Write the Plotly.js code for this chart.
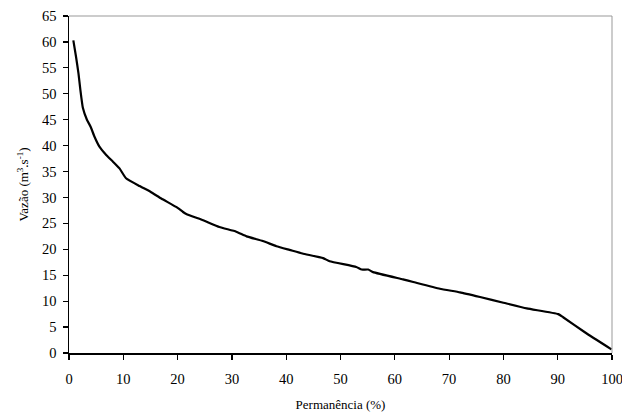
<!DOCTYPE html>
<html>
<head>
<meta charset="utf-8">
<script src="https://cdn.plot.ly/plotly-3.0.1.min.js"></script>
<style>html,body{margin:0;padding:0;background:#fff;}#chart{width:622px;height:414px;}</style>
</head>
<body>
<div id="chart"></div>
<script>
const permanencia = [0.8, 1.3, 1.75, 2.1, 2.55, 3.3, 4.0, 4.7, 5.6, 6.85, 8.1, 9.3, 10.5, 13, 15, 17, 20, 21, 21.6, 24.7, 27.7, 30.8, 32.7, 35.7, 38.2, 40.6, 43, 46.8, 48, 52.9, 53.9, 55.1, 56, 61.5, 63.4, 68.3, 72, 75.7, 80, 84.3, 90.1, 91, 95, 99.9];
const vazao = [60.3, 57.1, 53.9, 50.7, 47.3, 45.0, 43.6, 41.7, 39.8, 38.2, 36.9, 35.6, 33.7, 32.2, 31.1, 29.8, 28.0, 27.2, 26.8, 25.6, 24.3, 23.4, 22.5, 21.6, 20.6, 19.9, 19.2, 18.3, 17.7, 16.6, 16.1, 16.1, 15.6, 14.2, 13.7, 12.4, 11.7, 10.8, 9.7, 8.6, 7.5, 6.9, 4.0, 0.7];
const xTicks = [0, 10, 20, 30, 40, 50, 60, 70, 80, 90, 100];
const yTicks = [0, 5, 10, 15, 20, 25, 30, 35, 40, 45, 50, 55, 60, 65];

const font = '"Liberation Serif", "Times New Roman", serif';
Plotly.newPlot('chart', [{
  x: permanencia, y: vazao, type: 'scatter', mode: 'lines',
  line: {color: '#000', width: 2.2, shape: 'spline', smoothing: 0.4},
  hoverinfo: 'none'
}], {
  width: 622, height: 414,
  margin: {l: 69, r: 10, t: 16, b: 61, pad: 0},
  paper_bgcolor: '#fff', plot_bgcolor: '#fff',
  showlegend: false,
  font: {family: font, color: '#000', size: 14},
  xaxis: {
    range: [0, 100], tickvals: xTicks, ticktext: xTicks.map(String),
    showgrid: false, zeroline: false, showline: true, linecolor: '#000', linewidth: 1.5,
    ticks: 'outside', ticklen: 5, tickcolor: '#000', tickwidth: 1.2,
    ticklabelstandoff: 7, ticklabeloverflow: 'allow',
    tickfont: {family: font, size: 14.5, color: '#000'},
    title: {text: 'Permanência (%)', font: {family: font, size: 13, color: '#000'}, standoff: 14}
  },
  yaxis: {
    range: [0, 65], tickvals: yTicks, ticktext: yTicks.map(String),
    showgrid: false, zeroline: false, showline: true, linecolor: '#000', linewidth: 1.5,
    ticks: 'outside', ticklen: 5, tickcolor: '#000', tickwidth: 1.2,
    ticklabelstandoff: 3,
    tickfont: {family: font, size: 14.5, color: '#000'},
    title: {text: 'Vazão (m<sup>3</sup>.s<sup>-1</sup>)', font: {family: font, size: 13, color: '#000'}, standoff: 10}
  },
  shapes: [
    {type: 'line', xref: 'paper', yref: 'paper', x0: 0, x1: 1, y0: 1, y1: 1, line: {color: '#999', width: 1}},
    {type: 'line', xref: 'paper', yref: 'paper', x0: 1, x1: 1, y0: 0, y1: 1, line: {color: '#999', width: 1}}
  ]
}, {staticPlot: true});
</script>
</body>
</html>
